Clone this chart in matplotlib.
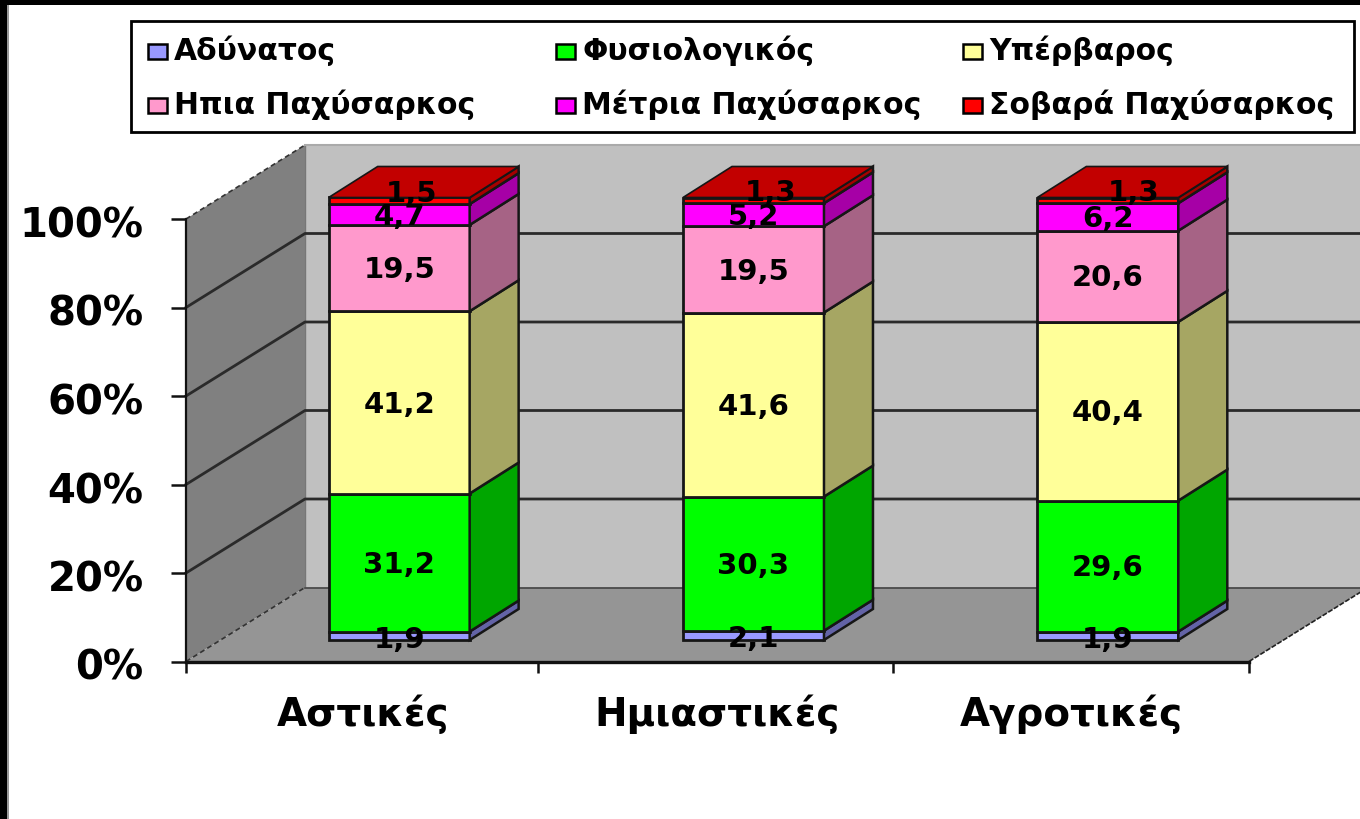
# -*- coding: utf-8 -*-
import matplotlib
matplotlib.use('Agg')
import matplotlib.pyplot as plt
import numpy as np
from matplotlib.patches import Polygon, Rectangle
from matplotlib.transforms import ScaledTranslation

categories = ['Αστικές', 'Ημιαστικές', 'Αγροτικές']
series_names = ['Αδύνατος', 'Φυσιολογικός', 'Υπέρβαρος',
                'Ηπια Παχύσαρκος', 'Μέτρια Παχύσαρκος', 'Σοβαρά Παχύσαρκος']
adynatos = [1.9, 2.1, 1.9]
fysiologikos = [31.2, 30.3, 29.6]
yperbaros = [41.2, 41.6, 40.4]
ipia = [19.5, 19.5, 20.6]
metria = [4.7, 5.2, 6.2]
sovara = [1.5, 1.3, 1.3]
colors = ['#9999FF', '#00FF00', '#FFFF99', '#FF99CC', '#FF00FF', '#FF0000']
values = [adynatos, fysiologikos, yperbaros, ipia, metria, sovara]

W, H = 1360, 819
FONT = 'DejaVu Sans'
EDGE = '#161616'


def shade(col, f):
    return tuple(np.array(matplotlib.colors.to_rgb(col)) * f)


fig = plt.figure(figsize=(W / 100, H / 100), dpi=100, facecolor='white')
ax = fig.add_axes([186 / W, (H - 661.5) / H, (1249 - 186) / W, (661.5 - 219) / H])
ax.set_xlim(-0.5, 2.5)
ax.set_ylim(0, 100)
ax.patch.set_visible(False)

# depth of the fake 3d box and of the bars, in data units
wall_dx, wall_dy = 119 / 354.4, 74 / 4.425
bar_dx, bar_dy = 49 / 354.4, 31 / 4.425
shift_x, shift_y = 36 / 354.4, 21.5 / 4.425
bar_w = 141 / 354.4

# walls and floor
ax.add_patch(Polygon([(-0.5 + wall_dx, wall_dy), (2.5 + wall_dx, wall_dy),
                      (2.5 + wall_dx, 100 + wall_dy), (-0.5 + wall_dx, 100 + wall_dy)],
                     fc='#C0C0C0', ec='none', zorder=1, clip_on=False))
ax.add_patch(Polygon([(-0.5, 0), (-0.5 + wall_dx, wall_dy),
                      (-0.5 + wall_dx, 100 + wall_dy), (-0.5, 100)],
                     fc='#808080', ec='none', zorder=1, clip_on=False))
ax.add_patch(Polygon([(-0.5, 0), (2.5, 0), (2.5 + wall_dx, wall_dy), (-0.5 + wall_dx, wall_dy)],
                     fc='#959595', ec='none', zorder=1.2, clip_on=False))
yticks = [0, 20, 40, 60, 80, 100]
for v in yticks:
    if v in (0, 100):
        # box edges are only a broken hairline in the original
        ax.plot([-0.5, -0.5 + wall_dx], [v, v + wall_dy], color='#333333', lw=1.2,
                ls=(0, (3, 2)), zorder=1.5, clip_on=False)
    else:
        ax.plot([-0.5, -0.5 + wall_dx, 2.5 + wall_dx], [v, v + wall_dy, v + wall_dy],
                color='#2a2a2a', lw=2, zorder=1.5, clip_on=False)
ax.plot([-0.5 + wall_dx, 2.5 + wall_dx], [wall_dy, wall_dy], color='#444444', lw=1.2, zorder=1.3, clip_on=False)
ax.plot([-0.5 + wall_dx, 2.5 + wall_dx], [100 + wall_dy] * 2, color='#aaaaaa', lw=1.5, zorder=1.3, clip_on=False)
ax.plot([-0.5 + wall_dx] * 2, [wall_dy, 100 + wall_dy], color='#777777', lw=1, zorder=1.1, clip_on=False)
ax.plot([2.5, 2.5 + wall_dx], [0, wall_dy], color='#222222', lw=1.2, ls=(0, (3, 1)), zorder=1.3, clip_on=False)

# stacked bars
x = np.arange(len(categories)) + shift_x
bottom = np.zeros(len(categories))
top_shift = [0.034, 0.048, 0.073]
for k, (vals, col) in enumerate(zip(values, colors)):
    vals = np.array(vals)
    ax.bar(x, vals, bottom=bottom + shift_y, width=bar_w, color=col, edgecolor=EDGE,
           linewidth=2, zorder=3, clip_on=False)
    for i in range(len(x)):
        xr = x[i] + bar_w / 2
        b = bottom[i] + shift_y
        t = b + vals[i]
        ax.add_patch(Polygon([(xr, b), (xr + bar_dx, b + bar_dy), (xr + bar_dx, t + bar_dy), (xr, t)],
                             fc=shade(col, 0.65), ec=EDGE, lw=1.8, zorder=3, clip_on=False))
        if k == len(values) - 1:
            xl = x[i] - bar_w / 2
            ax.add_patch(Polygon([(xl, t), (xl + bar_dx, t + bar_dy), (xr + bar_dx, t + bar_dy), (xr, t)],
                                 fc=shade(col, 0.76), ec=EDGE, lw=1.2, zorder=3, clip_on=False))
        lx, ly = x[i], b + vals[i] / 2 - 0.5
        if k == 0:
            ly = b + vals[i] / 2 - 0.9
        if k == len(values) - 1:
            lx = x[i] + top_shift[i]
            ly = b + vals[i] / 2 + 1.6
        ax.text(lx, ly, f'{vals[i]:.1f}'.replace('.', ','), ha='center', va='center',
                fontsize=21, fontweight='bold', family=FONT, color='black', zorder=5, clip_on=False)
    bottom = bottom + vals

# axes, ticks and labels
for s in ('top', 'right'):
    ax.spines[s].set_visible(False)
for s in ('left', 'bottom'):
    ax.spines[s].set_color('#111111')
    ax.spines[s].set_zorder(2)
ax.spines['left'].set_linewidth(1.6)
ax.spines['bottom'].set_linewidth(2.4)
ax.set_yticks(yticks)
ax.set_yticklabels([f'{v}%' for v in yticks], fontsize=29, fontweight='bold', family=FONT)
ax.set_xticks(range(len(categories)))
ax.set_xticklabels(categories, fontsize=28, fontweight='bold', family=FONT)
ax.set_xticks([-0.5, 0.494, 1.495, 2.5], minor=True)
ax.tick_params(axis='y', length=10.5, width=1.8, pad=20, color='#111111')
ax.tick_params(axis='x', which='major', length=0, pad=24)
ax.tick_params(axis='x', which='minor', length=8, width=1.8, color='#111111')
for lab in ax.get_yticklabels():
    lab.set_transform(lab.get_transform() + ScaledTranslation(0, -3 / 100, fig.dpi_scale_trans))

# legend and picture frame, in pixels
ov = fig.add_axes([0, 0, 1, 1], zorder=10)
ov.set_xlim(0, W)
ov.set_ylim(H, 0)
ov.axis('off')
ov.add_patch(Rectangle((0, 0), W, 5, fc='black', ec='none'))
ov.add_patch(Rectangle((0, 0), 7, H, fc='black', ec='none'))
ov.add_patch(Rectangle((7, 5), 2, H, fc='#999999', ec='none'))
ov.add_patch(Rectangle((131, 21), 1223, 110.5, fc='white', ec='black', lw=2))
col_x = [148, 556, 963]
row_y = [51, 105]
for k, (name, col) in enumerate(zip(series_names, colors)):
    cx, cy = col_x[k % 3], row_y[k // 3]
    ov.add_patch(Rectangle((cx, cy - 7.5), 19, 15, fc=col, ec='black', lw=1.8))
    ov.text(cx + 26, cy, name, ha='left', va='center', fontsize=21.5, fontweight='bold',
            family=FONT, color='black')

fig.savefig('out.png', dpi=100)
